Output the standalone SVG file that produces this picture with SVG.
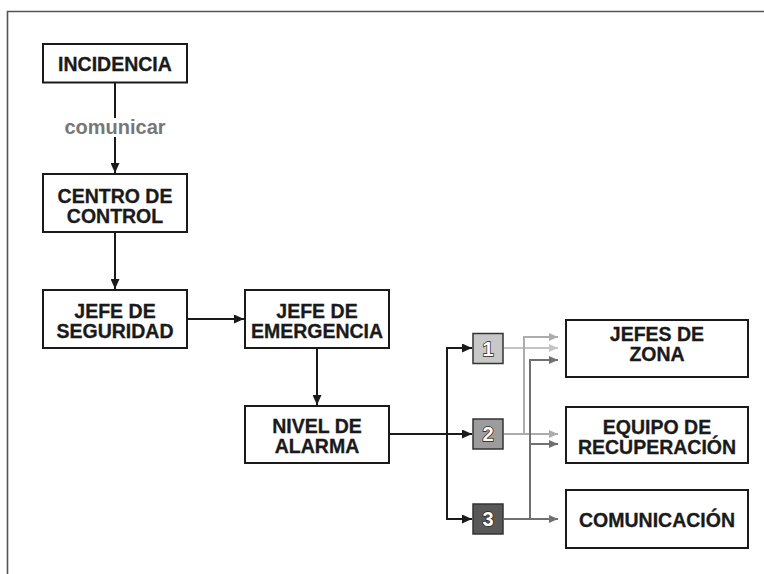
<svg xmlns="http://www.w3.org/2000/svg" width="764" height="574" viewBox="0 0 764 574">
<style>
.box{fill:#fff;stroke:#1a1a1a;stroke-width:2}
.lbl{font-family:"Liberation Sans",Arial,sans-serif;font-weight:bold;font-size:19.5px;fill:#1a1a1a;stroke:#1a1a1a;stroke-width:0.3;text-anchor:middle}
.cm{font-family:"Liberation Sans",Arial,sans-serif;font-weight:bold;font-size:20px;fill:#777;text-anchor:middle}
.num{font-family:"Liberation Sans",Arial,sans-serif;font-weight:bold;font-size:20px;fill:#fff;stroke:#222;stroke-width:1.4;paint-order:stroke;text-anchor:middle}
.k{stroke:#1a1a1a;stroke-width:2;fill:none}
.g1{stroke:#c4c4c4;stroke-width:2;fill:none}
.g2{stroke:#acacac;stroke-width:2;fill:none}
.g3{stroke:#707070;stroke-width:2;fill:none}
</style>
<defs>
<marker id="ak" markerUnits="userSpaceOnUse" markerWidth="10" markerHeight="9" refX="10" refY="4.5" orient="auto"><path d="M0,0 L10,4.5 L0,9 z" fill="#1a1a1a"/></marker>
<marker id="a1" markerUnits="userSpaceOnUse" markerWidth="9" markerHeight="8" refX="9" refY="4" orient="auto"><path d="M0,0 L9,4 L0,8 z" fill="#c4c4c4"/></marker>
<marker id="a2" markerUnits="userSpaceOnUse" markerWidth="9" markerHeight="8" refX="9" refY="4" orient="auto"><path d="M0,0 L9,4 L0,8 z" fill="#acacac"/></marker>
<marker id="a3" markerUnits="userSpaceOnUse" markerWidth="9" markerHeight="8" refX="9" refY="4" orient="auto"><path d="M0,0 L9,4 L0,8 z" fill="#707070"/></marker>
</defs>
<rect width="764" height="574" fill="#fff"/>
<g id="frame"><path d="M7.5,574 V11.5 H764" fill="none" stroke="#555" stroke-width="1.6"/></g>

<g id="connectors">
<line class="k" x1="115" y1="83" x2="115" y2="118"/>
<line class="k" x1="115" y1="137" x2="115" y2="173" marker-end="url(#ak)"/>
<line class="k" x1="115" y1="233" x2="115" y2="289" marker-end="url(#ak)"/>
<line class="k" x1="188" y1="319" x2="244" y2="319" marker-end="url(#ak)"/>
<line class="k" x1="317" y1="348" x2="317" y2="405" marker-end="url(#ak)"/>
<line class="k" x1="390" y1="434" x2="472" y2="434" marker-end="url(#ak)"/>
<path class="k" d="M472,348 H447 V519 H472" marker-end="url(#ak)"/>
<line class="k" x1="447" y1="348" x2="472" y2="348" marker-end="url(#ak)"/>
<line class="g1" x1="504" y1="348" x2="558" y2="348" marker-end="url(#a1)"/>
<line class="g2" x1="504" y1="434" x2="558" y2="434" marker-end="url(#a2)"/>
<path class="g2" d="M524,434 V337 H558" marker-end="url(#a2)"/>
<line class="g3" x1="504" y1="519" x2="558" y2="519" marker-end="url(#a3)"/>
<path class="g3" d="M530,519 V360 H558" marker-end="url(#a3)"/>
<line class="g3" x1="530" y1="444" x2="558" y2="444" marker-end="url(#a3)"/>
<text class="cm" x="115" y="134">comunicar</text>
</g>

<g id="incidencia"><rect class="box" x="43" y="44" width="144" height="38.5"/><text class="lbl" x="115" y="71">INCIDENCIA</text></g>
<g id="centro"><rect class="box" x="43" y="174" width="144" height="58"/><text class="lbl" x="115" y="203">CENTRO DE</text><text class="lbl" x="115" y="223">CONTROL</text></g>
<g id="seguridad"><rect class="box" x="43" y="290" width="144" height="58"/><text class="lbl" x="115" y="318">JEFE DE</text><text class="lbl" x="115" y="338">SEGURIDAD</text></g>
<g id="emergencia"><rect class="box" x="245" y="290" width="144" height="58"/><text class="lbl" x="317" y="318">JEFE DE</text><text class="lbl" x="317" y="338">EMERGENCIA</text></g>
<g id="nivel"><rect class="box" x="245" y="406" width="144" height="57"/><text class="lbl" x="317" y="433">NIVEL DE</text><text class="lbl" x="317" y="453">ALARMA</text></g>

<g id="n1"><rect x="473" y="333.5" width="30" height="30" fill="#c8c8c8" stroke="#333" stroke-width="1.5"/><text class="num" x="488" y="355.5">1</text></g>
<g id="n2"><rect x="473" y="419" width="30" height="30" fill="#9c9c9c" stroke="#333" stroke-width="1.5"/><text class="num" x="488" y="441">2</text></g>
<g id="n3"><rect x="473" y="504" width="30" height="30" fill="#585858" stroke="#333" stroke-width="1.5"/><text class="num" x="488" y="526">3</text></g>

<g id="jefes-zona"><rect class="box" x="566" y="320" width="182" height="57"/><text class="lbl" x="657" y="341">JEFES DE</text><text class="lbl" x="657" y="361">ZONA</text></g>
<g id="equipo"><rect class="box" x="566" y="407" width="182" height="56"/><text class="lbl" x="657" y="434">EQUIPO DE</text><text class="lbl" x="657" y="454">RECUPERACIÓN</text></g>
<g id="comunicacion"><rect class="box" x="566" y="490" width="182" height="58"/><text class="lbl" x="657" y="527">COMUNICACIÓN</text></g>
</svg>
